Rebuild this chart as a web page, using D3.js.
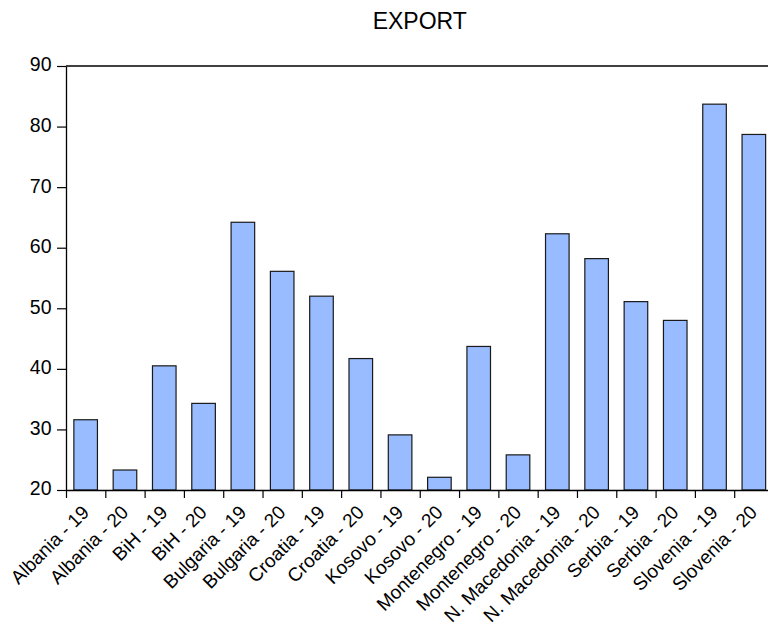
<!DOCTYPE html>
<html>
<head>
<meta charset="utf-8">
<script src="https://cdn.jsdelivr.net/npm/d3@7"></script>
<style>
  html, body { margin: 0; padding: 0; background: #fff; }
  svg { display: block; }
  text { font-family: "Liberation Sans", Arial, sans-serif; fill: #000; }
</style>
</head>
<body>
<svg id="chart" width="768" height="625"></svg>
<script>
const categories = [
  "Albania - 19", "Albania - 20", "BiH - 19", "BiH - 20",
  "Bulgaria - 19", "Bulgaria - 20", "Croatia - 19", "Croatia - 20",
  "Kosovo - 19", "Kosovo - 20", "Montenegro - 19", "Montenegro - 20",
  "N. Macedonia - 19", "N. Macedonia - 20", "Serbia - 19", "Serbia - 20",
  "Slovenia - 19", "Slovenia - 20"
];
const exportValues = [
  31.6, 23.3, 40.5, 34.3,
  64.2, 56.1, 52.0, 41.7,
  29.1, 22.1, 43.7, 25.8,
  62.3, 58.2, 51.1, 48.0,
  83.7, 78.7
];
const yTicks = [20, 30, 40, 50, 60, 70, 80, 90];
const chartTitle = "EXPORT";

const svg = d3.select("#chart");
const mLeft = 66, mTop = 66, mBottom = 490, mRight = 773.5;
const FONT = "'Liberation Sans', Arial, sans-serif";

const x = d3.scaleBand().domain(categories).range([mLeft, mRight])
  .paddingInner(0.4).paddingOuter(0.2);
const y = d3.scaleLinear().domain([20, 90]).range([mBottom, mTop]);

// title
svg.append("text")
  .attr("x", (mLeft + mRight) / 2)
  .attr("y", 29)
  .attr("text-anchor", "middle")
  .style("font-size", "23px")
  .style("font-family", FONT)
  .text(chartTitle);

// bars
svg.append("g").selectAll("rect").data(exportValues).join("rect")
  .attr("x", (d, i) => x(categories[i]))
  .attr("y", d => y(d))
  .attr("width", x.bandwidth())
  .attr("height", d => y(20) - y(d))
  .attr("fill", "#99bbff")
  .attr("stroke", "#1a1a1a")
  .attr("stroke-width", 1.2);

// frame: top line
svg.append("line").attr("x1", mLeft).attr("x2", 768).attr("y1", mTop).attr("y2", mTop)
  .attr("stroke", "#000").attr("stroke-width", 1.3);

// y axis
const yAxis = svg.append("g").attr("transform", `translate(${mLeft},0)`)
  .call(d3.axisLeft(y).tickValues(yTicks).tickSize(9).tickPadding(5.5).tickSizeOuter(0));
yAxis.select(".domain").attr("stroke", "#000").attr("stroke-width", 1.3);
yAxis.selectAll(".tick line").attr("stroke", "#000").attr("stroke-width", 1.2);
yAxis.selectAll("text")
  .style("font-size", "19.5px")
  .style("font-family", FONT)
  .attr("dy", "0.25em");

// x axis: ticks at band boundaries
const boundaries = d3.range(categories.length + 1).map(i => mLeft + i * x.step());
const xb = d3.scaleLinear().domain([mLeft, mRight]).range([mLeft, mRight]);
const xAxisTicks = svg.append("g").attr("transform", `translate(0,${mBottom})`)
  .call(d3.axisBottom(xb).tickValues(boundaries.slice(0, -1)).tickSize(8).tickFormat("").tickSizeOuter(0));
xAxisTicks.select(".domain").attr("stroke", "#000").attr("stroke-width", 1.3);
xAxisTicks.selectAll(".tick line").attr("stroke", "#000").attr("stroke-width", 1.2);

// x labels
const xAxis = svg.append("g").attr("transform", `translate(0,${mBottom})`)
  .call(d3.axisBottom(x).tickSize(0).tickPadding(0));
xAxis.select(".domain").remove();
xAxis.selectAll("text")
  .style("font-size", "19px")
  .style("font-family", FONT)
  .attr("text-anchor", "end")
  .attr("dy", null)
  .attr("y", null)
  .attr("transform", "translate(4.5,23.5) rotate(-45)");
</script>
</body>
</html>
